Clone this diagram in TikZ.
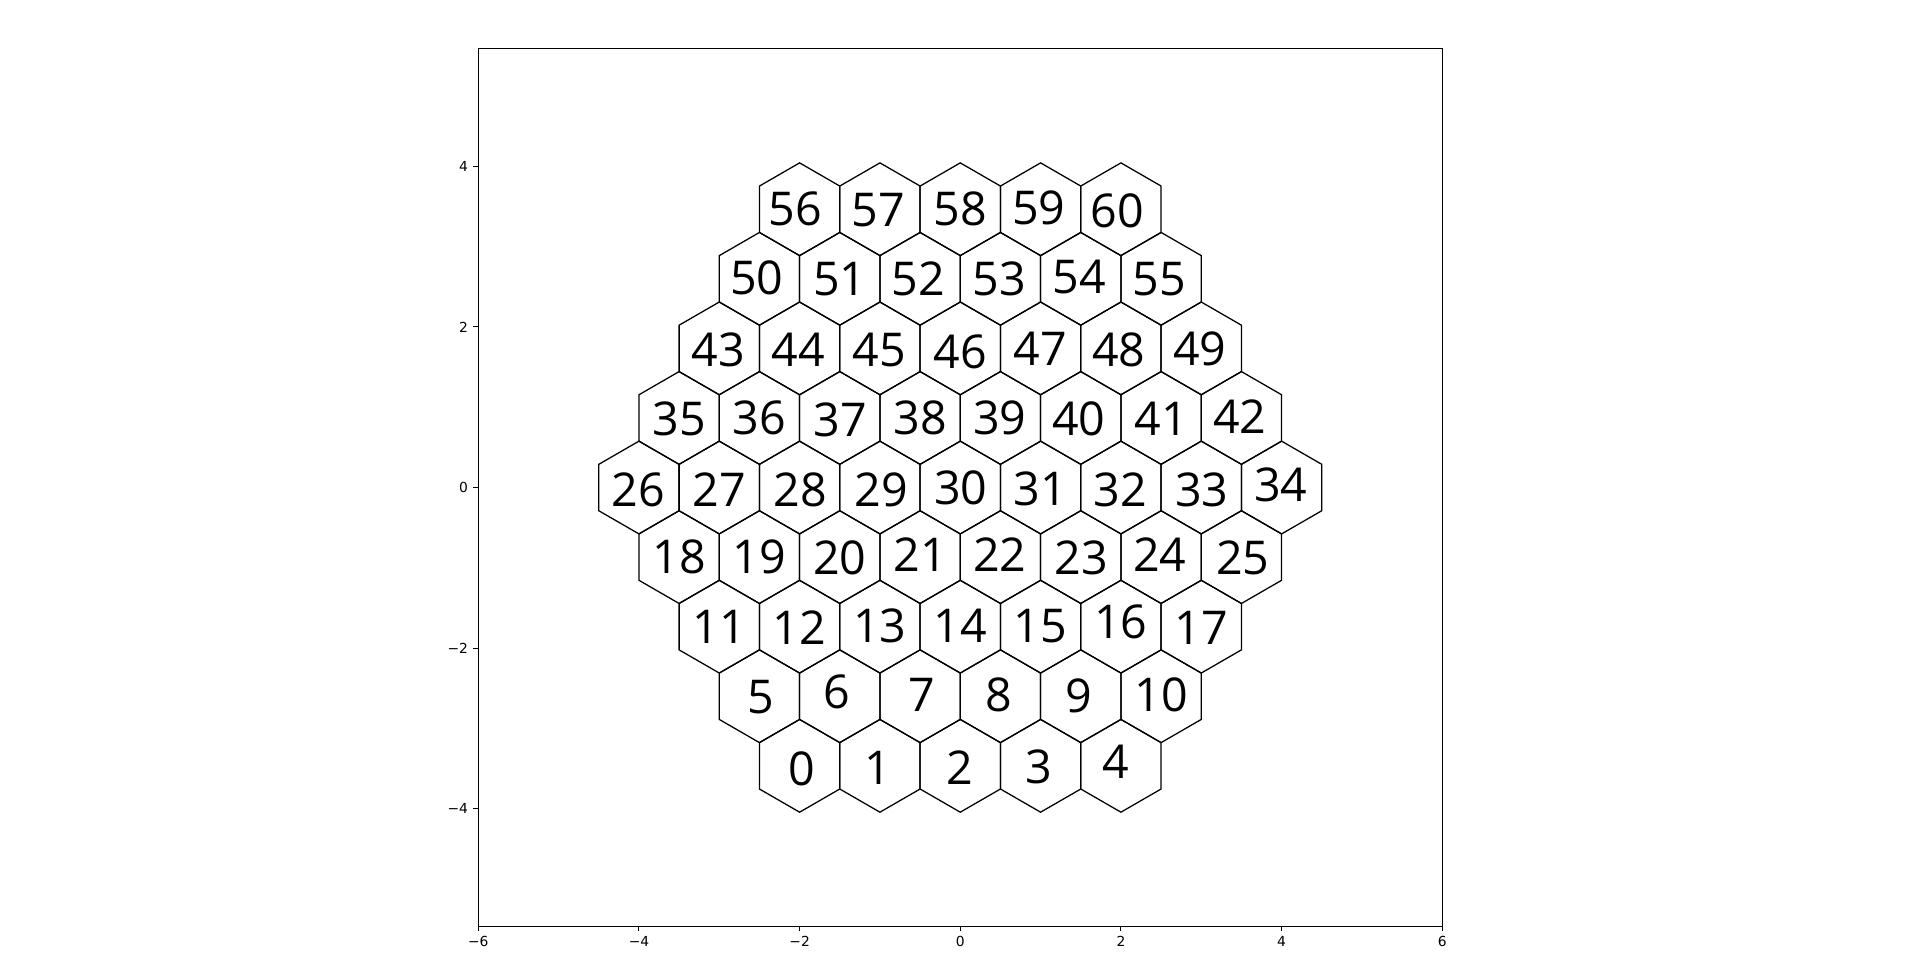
\documentclass[tikz,border=0pt]{standalone}
\usepackage{fontspec}
\setmainfont{Open Sans}
\newfontfamily\tickfont{DejaVu Sans}
\usetikzlibrary{shapes.geometric}

\tikzset{
  hexcell/.style={regular polygon, regular polygon sides=6, shape border rotate=30,
    minimum size=1.1547cm, inner sep=0pt, draw, line width=0.45pt},
  hexlabel/.style={inner sep=0pt, font=\fontsize{16.5}{16.5}\selectfont},
  axisline/.style={line width=0.39pt},
  ticklabel/.style={inner sep=0pt, font=\tickfont\fontsize{4.9}{5.9}\selectfont}
}
% small label offsets, in pixels of the picture (right / down)
\def\labeldx{{1.8,-2.5,-0.8,-1.5,-5.4,1.3,-2.8,1.5,-2,-1.8,0,0,0,0,0,0,0,0,0,0,0,0,-0.5,0.8,-1.3,1.5,
  -0.8,0,0.5,1.5,0.5,0,-0.8,0.5,-0.8,0,0,0.8,0,-0.5,-1.8,0,-1.8,-0.8,-1.3,-0.8,0,0,-2,-1.5,
  -2.6,0,-1.7,-1,-1.7,-1.6,-4.3,-1.7,0,-1.8,-3.4}}
\def\labeldy{{3,2.5,2,1.5,-3.6,1,-4.5,-0.9,-0.9,-0.4,-1.5,0,1.4,-0.4,-1.3,-0.4,-4.6,0.9,0,0,0.9,-2.1,-2.9,0.4,-2.4,0.9,
  2,2,2,2.3,0.5,1.5,2,2.5,-2.5,1.1,0,1.6,0,0,0.4,0.4,-1.7,1.6,1,2,3,0,1,0,
  -0.8,0,0,0.5,-2.3,0,0,1.1,0,-1.2,1.8}}

\begin{document}
\begin{tikzpicture}
\useasboundingbox (-11.954,-6.069) rectangle (11.947,6.069);
% frame
\draw[axisline] (-6,-5.46) rectangle (6,5.46);
% ticks
\foreach \t/\s [count=\i] in {-6/−6,-4/−4,-2/−2,0/0,2/2,4/4,6/6} {
  \draw[axisline] (\t,-5.46) -- ++(0,-0.0605) coordinate (xt\i);
  \node[ticklabel, anchor=north] (xl\i) at ([yshift=-0.0605cm]xt\i) {\s};
}
\foreach \t/\s [count=\i] in {-4/−4,-2/−2,0/0,2/2,4/4} {
  \draw[axisline] (-6,\t) -- ++(-0.0605,0) coordinate (yt\i);
  \node[ticklabel, anchor=east] (yl\i) at ([xshift=-0.0605cm]yt\i) {\s};
}
% hexagon rows: row / first number / cells
\foreach \r/\first/\n in {-4/0/5,-3/5/6,-2/11/7,-1/18/8,0/26/9,1/35/8,2/43/7,3/50/6,4/56/5} {
  \pgfmathtruncatemacro\last{\n-1}
  \foreach \k in {0,...,\last} {
    \pgfmathtruncatemacro\num{\first+\k}
    \pgfmathsetmacro\ox{0.01245*\labeldx[\num]}
    \pgfmathsetmacro\oy{-0.01245*\labeldy[\num]}
    \node[hexcell] (h\num) at ({\k-(\n-1)/2},{\r*0.866025}) {};
    \node[hexlabel] (t\num) at ([xshift=\ox cm, yshift=\oy cm]h\num) {\num};
  }
}
\end{tikzpicture}
\end{document}
